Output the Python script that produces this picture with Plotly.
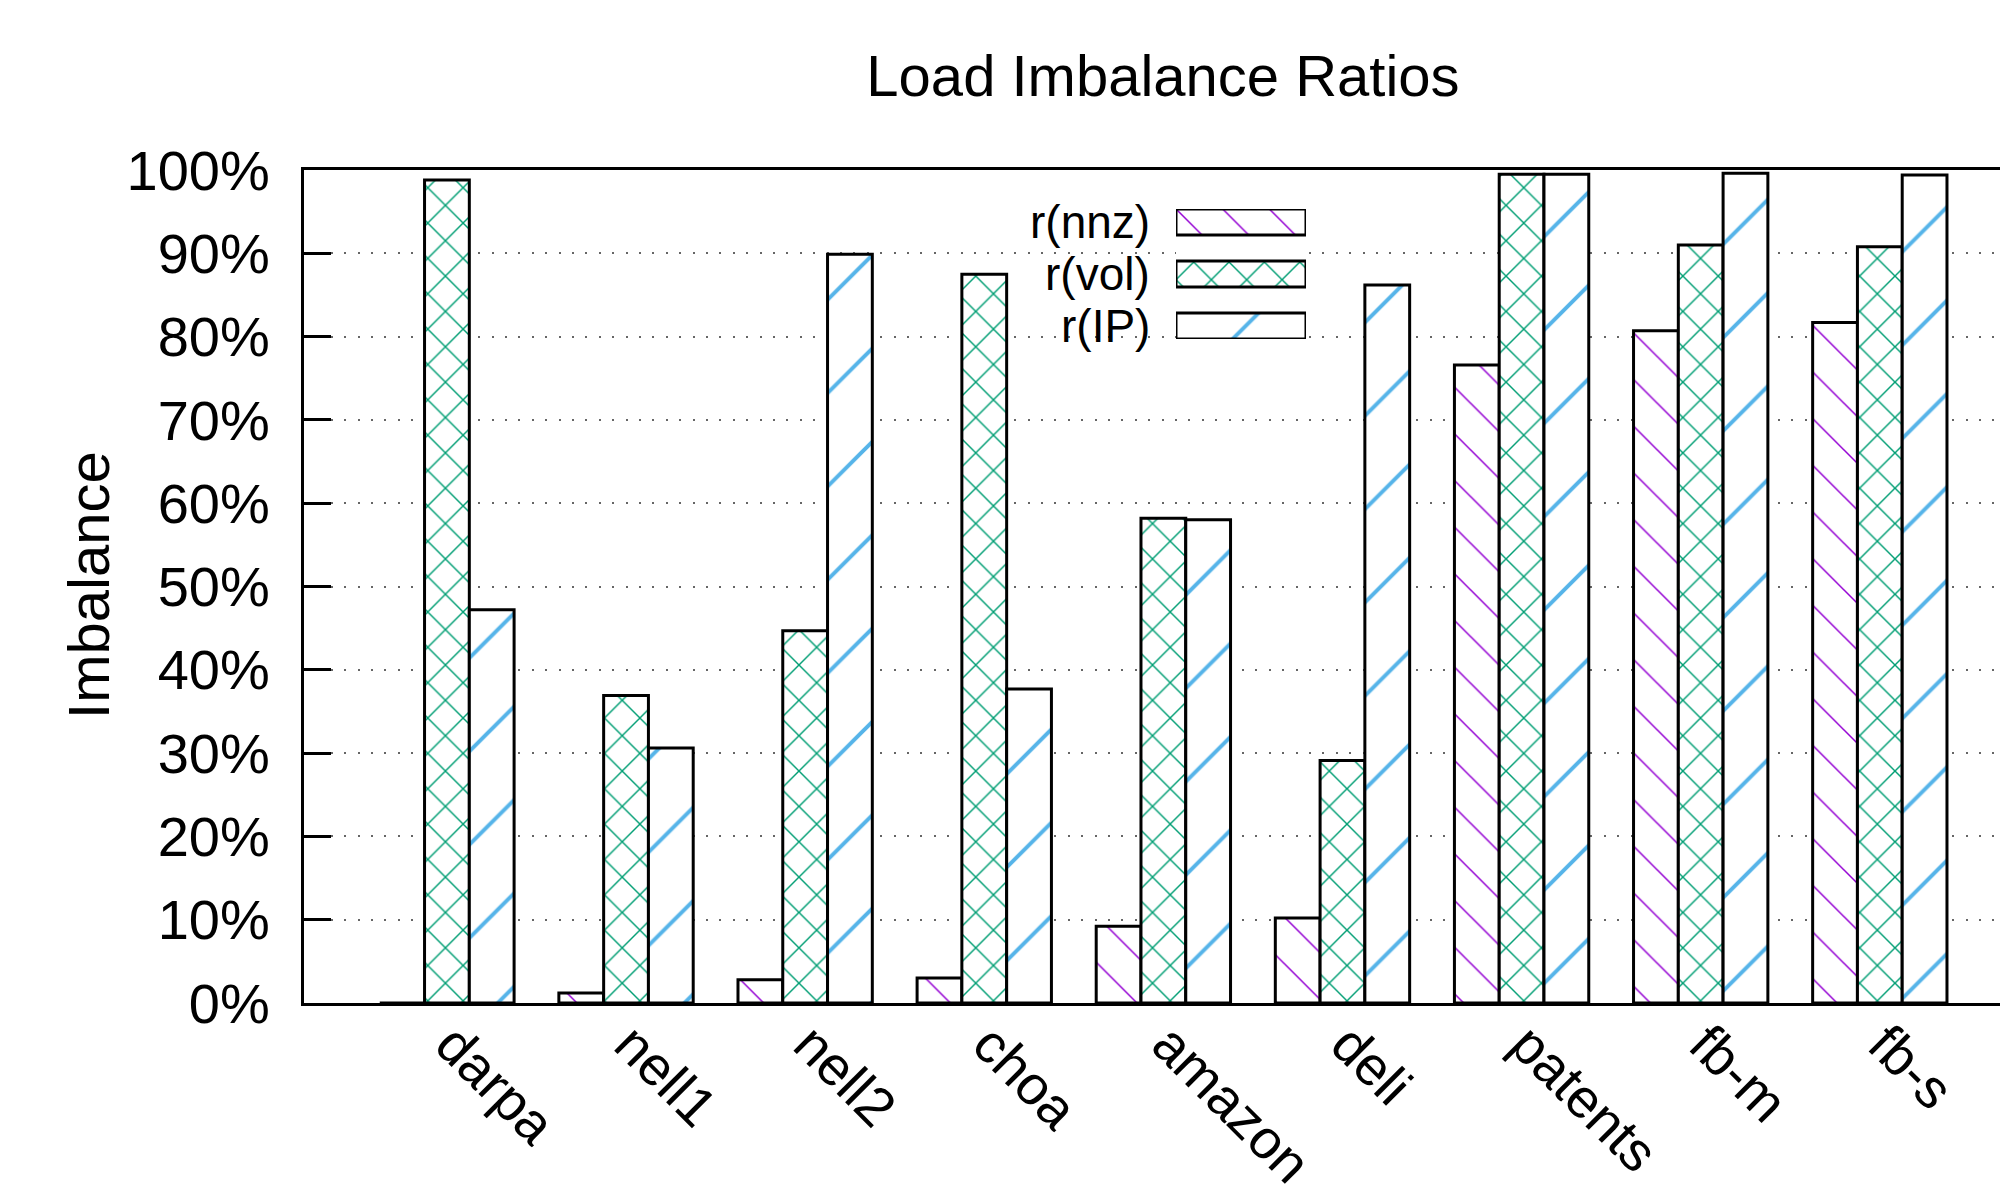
import plotly.graph_objects as go

# ---------------- data ----------------
categories = ["darpa", "nell1", "nell2", "choa", "amazon", "deli", "patents", "fb-m", "fb-s"]
r_nnz = [0.0, 1.2, 2.8, 3.0, 9.2, 10.2, 76.6, 80.7, 81.7]
r_vol = [98.8, 36.9, 44.7, 87.5, 58.2, 29.1, 99.5, 91.0, 90.8]
r_ip = [47.2, 30.6, 89.9, 37.7, 58.0, 86.2, 99.5, 99.6, 99.4]
series_names = ["r(nnz)", "r(vol)", "r(IP)"]
y_tick_vals = [0, 10, 20, 30, 40, 50, 60, 70, 80, 90, 100]
y_tick_text = ["0%", "10%", "20%", "30%", "40%", "50%", "60%", "70%", "80%", "90%", "100%"]

# ---------------- styles ----------------
FONT = "Liberation Sans, Arial, Helvetica, sans-serif"
patterns = [
    dict(shape="\\", fgcolor="#9400D3", bgcolor="white", size=33, solidity=0.045, fillmode="replace"),
    dict(shape="x", fgcolor="#009E73", bgcolor="white", size=25, solidity=0.11, fillmode="replace"),
    dict(shape="/", fgcolor="#56B4E9", bgcolor="white", size=66, solidity=0.06, fillmode="replace"),
]
series_values = [r_nnz, r_vol, r_ip]

fig = go.Figure()

for name, vals, pat in zip(series_names, series_values, patterns):
    fig.add_trace(go.Bar(
        x=categories, y=vals, name=name, showlegend=False,
        marker=dict(color="white", line=dict(color="black", width=3), pattern=pat),
        hoverinfo="skip",
    ))

# custom key (text left, swatch right), on its own hidden axes
for i, (name, pat) in enumerate(zip(series_names, patterns)):
    fig.add_trace(go.Bar(
        x=[1], y=[i], orientation="h", width=0.5, offsetgroup="key",
        xaxis="x2", yaxis="y2", showlegend=False, hoverinfo="skip",
        marker=dict(color="white", line=dict(color="black", width=3), pattern=pat),
    ))
    fig.add_annotation(
        xref="x2", yref="y2", x=0, y=i, text=name, showarrow=False,
        xanchor="right", yanchor="middle", xshift=-24,
        font=dict(family=FONT, size=46, color="black"),
    )

fig.add_annotation(
    xref="paper", yref="paper", x=-0.1274, y=0.5018, text="Imbalance",
    textangle=-90, showarrow=False, xanchor="center", yanchor="middle",
    font=dict(family=FONT, size=58, color="black"),
)

fig.update_layout(
    width=2000, height=1185,
    margin=dict(l=304, r=0, t=170, b=182),
    paper_bgcolor="white", plot_bgcolor="white",
    barmode="group", bargap=0.25, bargroupgap=0,
    font=dict(family=FONT, color="black"),
    title=dict(text="Load Imbalance Ratios", x=0.5815, xref="container", xanchor="center",
               y=0.936, yref="container", yanchor="middle",
               font=dict(family=FONT, size=58, color="black")),
    xaxis=dict(
        type="category", categoryorder="array", categoryarray=categories,
        range=[-0.798, 8.671], showline=True, linewidth=3, linecolor="black",
        mirror=True, ticks="", showgrid=False, zeroline=False, automargin=False,
        tickangle=45, tickfont=dict(family=FONT, size=55, color="black"),
        ticklabelstandoff=-16, ticklabelshift=5,
    ),
    yaxis=dict(
        range=[0, 100], tickvals=y_tick_vals, ticktext=y_tick_text,
        ticks="inside", ticklen=27, tickwidth=3, tickcolor="black",
        showline=True, linewidth=3, linecolor="black", zeroline=False, automargin=False,
        showgrid=True, gridcolor="#666666", gridwidth=2, griddash="2px,11.4px",
        tickfont=dict(family=FONT, size=56, color="black"), ticklabelstandoff=20,
    ),
    xaxis2=dict(domain=[0.51415, 0.5908], anchor="y2", range=[0, 1], visible=False),
    yaxis2=dict(domain=[0.7971, 0.9532], anchor="x2", range=[2.25, -0.25], visible=False),
)

fig.write_html("out.html", config={"displayModeBar": False},
               post_script="document.body.style.margin='0';")
